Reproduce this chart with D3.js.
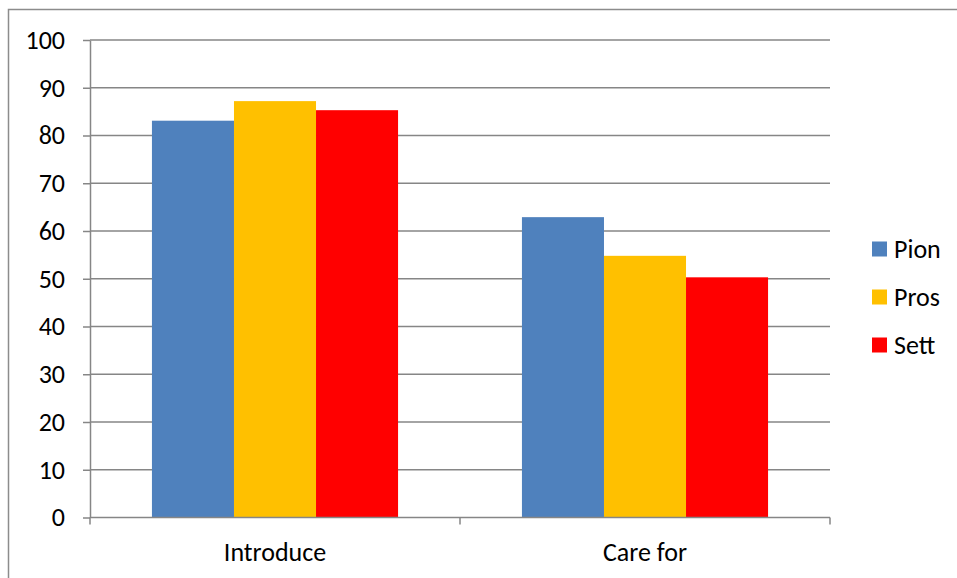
<!DOCTYPE html>
<html>
<head>
<meta charset="utf-8">
<script src="https://cdn.jsdelivr.net/npm/d3@7"></script>
<style>
  html, body { margin: 0; padding: 0; background: #fff; }
  svg { display: block; }
  text { font-family: Carlito, Lato, "Open Sans", sans-serif; fill: #000; }
</style>
</head>
<body>
<svg id="chart" width="957" height="578"></svg>
<script>
// Chart data
const categories = ["Introduce", "Care for"];
const seriesNames = ["Pion", "Pros", "Sett"];
const pion = [83.1, 62.9];
const pros = [87.2, 54.8];
const sett = [85.3, 50.3];
const yTicks = [0, 10, 20, 30, 40, 50, 60, 70, 80, 90, 100];
const colors = ["#4f81bd", "#ffc000", "#ff0000"];

const seriesValues = [pion, pros, sett];
const rows = categories.map((c, i) => ({
  category: c,
  values: seriesNames.map((s, j) => ({ series: s, value: seriesValues[j][i] }))
}));

const svg = d3.select("#chart");
const plot = { left: 90, right: 830, top: 40, bottom: 517.5 };
const fontSize = 26;

// Outer chart-area frame
svg.append("rect")
  .attr("x", 8.5).attr("y", 9.5)
  .attr("width", 960).attr("height", 580)
  .attr("fill", "none").attr("stroke", "#8c8c8c").attr("stroke-width", 1.5);

const x0 = d3.scaleBand().domain(categories).range([plot.left, plot.right]);
const x1 = d3.scaleBand().domain(seriesNames)
  .range([0, x0.bandwidth()]).paddingInner(0).paddingOuter(0.755);
const y = d3.scaleLinear().domain([0, 100]).range([plot.bottom, plot.top]);

const grey = "#868686";

// Horizontal gridlines
svg.append("g").selectAll("line").data(yTicks.filter(d => d > 0)).join("line")
  .attr("x1", plot.left).attr("x2", plot.right)
  .attr("y1", d => y(d)).attr("y2", d => y(d))
  .attr("stroke", grey).attr("stroke-width", 1.5);

// Bars
const groups = svg.append("g").selectAll("g").data(rows).join("g")
  .attr("transform", d => `translate(${x0(d.category)},0)`);
groups.selectAll("rect").data(d => d.values).join("rect")
  .attr("x", d => x1(d.series))
  .attr("width", x1.bandwidth())
  .attr("y", d => y(d.value))
  .attr("height", d => y(0) - y(d.value))
  .attr("fill", (d, i) => colors[i]);

// Y axis
const yAxis = svg.append("g")
  .attr("transform", `translate(${plot.left},0)`)
  .call(d3.axisLeft(y).tickValues(yTicks).tickSize(7).tickPadding(18).tickSizeOuter(0));
yAxis.select(".domain").attr("stroke", grey).attr("stroke-width", 1.5);
yAxis.selectAll(".tick line").attr("stroke", grey).attr("stroke-width", 1.5);
yAxis.selectAll(".tick text").attr("font-size", fontSize).attr("fill", "#000")
  .attr("font-family", "Carlito, Lato, 'Open Sans', sans-serif");

// X axis with ticks at category boundaries
const xAxis = svg.append("g").attr("transform", `translate(0,${plot.bottom})`);
xAxis.append("line").attr("x1", plot.left).attr("x2", plot.right)
  .attr("stroke", grey).attr("stroke-width", 1.5);
const boundaries = categories.map(c => x0(c)).concat([x0(categories[categories.length - 1]) + x0.bandwidth()]);
xAxis.selectAll("line.tick").data(boundaries).join("line")
  .attr("class", "tick")
  .attr("x1", d => d).attr("x2", d => d)
  .attr("y1", 0).attr("y2", 7)
  .attr("stroke", grey).attr("stroke-width", 1.5);
xAxis.selectAll("text").data(categories).join("text")
  .attr("x", d => x0(d) + x0.bandwidth() / 2)
  .attr("y", 43)
  .attr("text-anchor", "middle")
  .attr("font-size", fontSize)
  .text(d => d);

// Legend
const legend = svg.append("g").selectAll("g").data(seriesNames).join("g")
  .attr("transform", (d, i) => `translate(872,${249 + i * 48})`);
legend.append("rect")
  .attr("x", 0).attr("y", -7.5).attr("width", 15).attr("height", 15)
  .attr("fill", (d, i) => colors[i]);
legend.append("text")
  .attr("x", 22).attr("y", 8.5)
  .attr("font-size", fontSize)
  .text(d => d);
</script>
</body>
</html>
